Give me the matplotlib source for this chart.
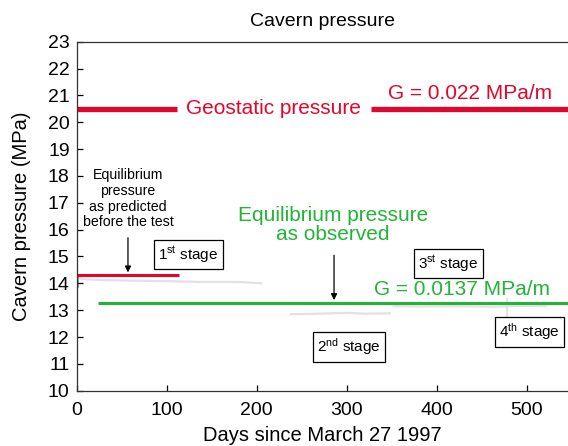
import matplotlib
matplotlib.use("Agg")
import matplotlib.pyplot as plt

plt.rcParams['font.family'] = ['Liberation Sans', 'DejaVu Sans']
plt.rcParams['mathtext.fontset'] = 'custom'
plt.rcParams['mathtext.rm'] = 'Liberation Sans'
plt.rcParams['mathtext.it'] = 'Liberation Sans'

# faint measured pressure data (per stage)
s1_days = [0, 10, 30, 60, 100, 140, 180, 205]
s1_p = [14.2, 14.15, 14.12, 14.1, 14.08, 14.05, 14.05, 14.0]
s2_days = [238, 260, 280, 300, 320, 348]
s2_p = [12.85, 12.86, 12.88, 12.9, 12.87, 12.88]
s3_days = [352, 380, 420, 460, 490, 522]
s3_p = [13.15, 13.14, 13.15, 13.13, 13.16, 13.15]
s4_days = [478, 478]
s4_p = [12.75, 13.4]

# reference lines
geo_p = 20.5
geo_left = [0, 112]
geo_right = [327, 546]
pred_p = 14.3
pred_days = [0, 114]
obs_p = 13.27
obs_days = [24, 546]

red = '#e2062c'
green = '#22b436'

fig = plt.figure(figsize=(5.68, 4.46), dpi=100)
ax = fig.add_axes([0.135, 0.124, 0.865, 0.7825])

for d, p in [(s1_days, s1_p), (s2_days, s2_p), (s3_days, s3_p), (s4_days, s4_p)]:
    ax.plot(d, p, color='#e4dfe8', lw=1.6, zorder=1)
ax.plot([0, 0], [13.9, 14.3], color='#9a9a9a', lw=2.0, zorder=1)

ax.plot(geo_left, [geo_p, geo_p], color=red, lw=3.8, solid_capstyle='butt')
ax.plot(geo_right, [geo_p, geo_p], color=red, lw=3.8, solid_capstyle='butt')
ax.plot(pred_days, [pred_p, pred_p], color=red, lw=2.2, solid_capstyle='butt')
ax.plot(obs_days, [obs_p, obs_p], color=green, lw=2.2, solid_capstyle='butt')

ax.text(219, geo_p, 'Geostatic pressure', color=red, fontsize=15, ha='center', va='center')
ax.text(437, 20.72, 'G = 0.022 MPa/m', color=red, fontsize=15, ha='center', va='bottom')

ax.text(57, 17.15, 'Equilibrium\npressure\nas predicted\nbefore the test', fontsize=10.2,
        ha='center', va='center', linespacing=1.15)
ax.annotate('', xy=(57, pred_p), xytext=(57, 15.8),
            arrowprops=dict(arrowstyle='-|>', color='black', lw=0.9, mutation_scale=9))

ax.text(285, 16.17, 'Equilibrium pressure\nas observed', color=green, fontsize=15,
        ha='center', va='center', linespacing=0.95)
ax.annotate('', xy=(286, obs_p), xytext=(286, 15.15),
            arrowprops=dict(arrowstyle='-|>', color='black', lw=0.9, mutation_scale=9))
ax.text(428, 13.4, 'G = 0.0137 MPa/m', color=green, fontsize=15, ha='center', va='bottom')

box = dict(boxstyle='square,pad=0.28', fc='white', ec='black', lw=0.9)
ax.text(124, 15.07, '1$^{\\rm st}$ stage', fontsize=11, ha='center', va='center', bbox=box)
ax.text(303, 11.63, '2$^{\\rm nd}$ stage', fontsize=11, ha='center', va='center', bbox=box)
ax.text(413, 14.74, '3$^{\\rm st}$ stage', fontsize=11, ha='center', va='center', bbox=box)
ax.text(503, 12.19, '4$^{\\rm th}$ stage', fontsize=11, ha='center', va='center', bbox=box)

ax.set_xlim(0, 546)
ax.set_ylim(10, 23)
ax.set_xticks([0, 100, 200, 300, 400, 500])
ax.set_yticks(range(10, 24))
ax.tick_params(direction='in', length=4, width=0.9, labelsize=14)
ax.tick_params(axis='x', pad=8)
ax.tick_params(axis='y', pad=5)
for s in ['left', 'bottom', 'top']:
    ax.spines[s].set_linewidth(0.9)
    ax.spines[s].set_color('#333333')
ax.spines['right'].set_visible(False)

ax.set_title('Cavern pressure', fontsize=14, pad=11)
ax.set_xlabel('Days since March 27 1997', fontsize=14.5, labelpad=5)
ax.set_ylabel('Cavern pressure (MPa)', fontsize=14.5, labelpad=12)

fig.savefig('out.png', dpi=100)
